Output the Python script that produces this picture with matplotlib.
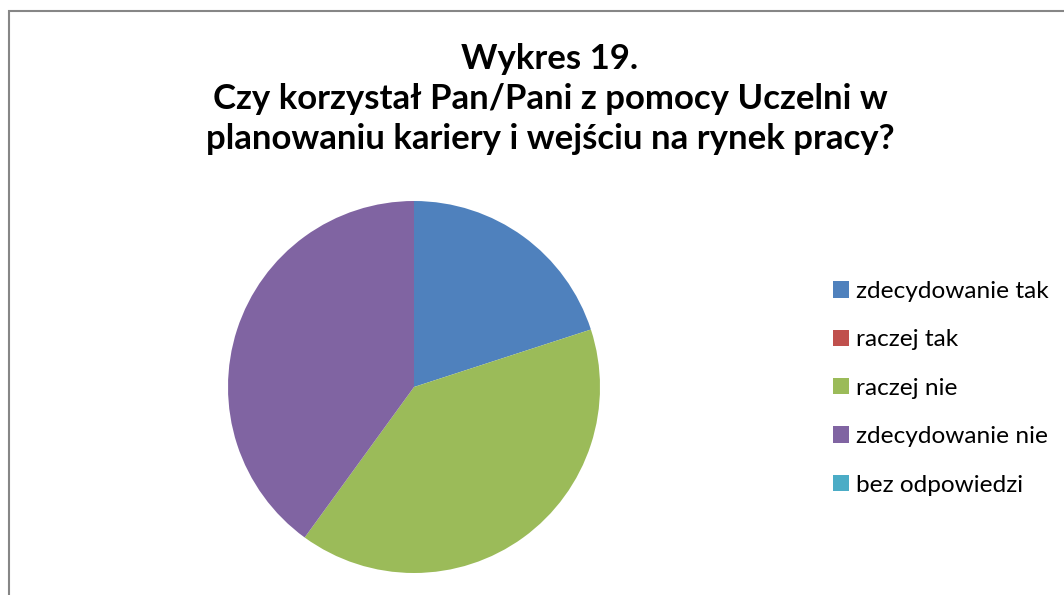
import matplotlib.pyplot as plt
from matplotlib.patches import Rectangle

# data
labels = ['zdecydowanie tak', 'raczej tak', 'raczej nie', 'zdecydowanie nie', 'bez odpowiedzi']
values = [20, 0, 40, 40, 0]
colors = ['#4F81BD', '#C0504D', '#9BBB59', '#8064A2', '#4BACC6']
title = 'Wykres 19.\nCzy korzystał Pan/Pani z pomocy Uczelni w\nplanowaniu kariery i wejściu na rynek pracy?'

plt.rcParams['font.family'] = ['Lato', 'DejaVu Sans']

fig = plt.figure(figsize=(10.64, 5.95), dpi=100)

# chart frame (right and bottom edges run off the picture)
fig.patches.append(Rectangle((8.5 / 1064, -0.05), 1.1, 1 - 10.5 / 595 + 0.05,
                             transform=fig.transFigure, fill=False,
                             edgecolor='#868686', linewidth=1.5))

fig.text(550 / 1064, 1 - 99 / 595, title, ha='center', va='center',
         fontsize=25, fontweight='bold', linespacing=1.3)

ax = fig.add_axes([228 / 1064, 22 / 595, 372 / 1064, 372 / 595])
wedges, _ = ax.pie(values, colors=colors, startangle=90, counterclock=False)
ax.set_xlim(-1, 1)
ax.set_ylim(-1, 1)
ax.set_aspect('equal')

leg = fig.legend(wedges, labels, loc='upper left',
                 bbox_to_anchor=(833 / 1064, 1 - 281 / 595),
                 frameon=False, fontsize=17.6, handlelength=0.65,
                 handleheight=0.65, handletextpad=0.3, labelspacing=1.12,
                 borderaxespad=0, borderpad=0)

fig.savefig('out.png', dpi=100)
